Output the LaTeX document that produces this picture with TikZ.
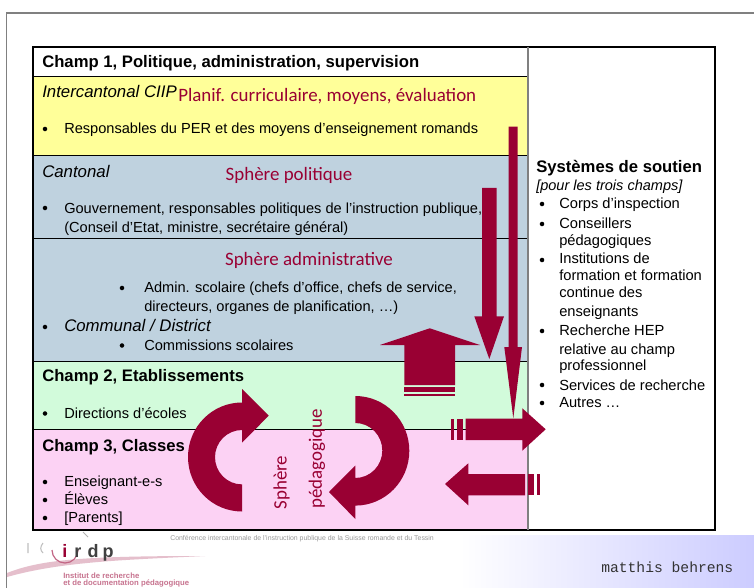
\documentclass[tikz,border=0pt]{standalone}
\usepackage{fontspec}
\setmainfont{Liberation Sans}
\newfontfamily\calib{Carlito}
\newfontfamily\monof{Liberation Mono}
\usetikzlibrary{shadings}
\definecolor{wine}{HTML}{990033}
\definecolor{rowy}{HTML}{FFFF99}
\definecolor{rowb}{HTML}{BFD2DF}
\definecolor{rowg}{HTML}{D2FBDB}
\definecolor{rowp}{HTML}{FCD2F4}
\definecolor{frameg}{HTML}{808080}
\definecolor{barb}{HTML}{CCCCFF}
\tikzset{
 lbl/.style={anchor=base west,inner sep=0pt,font=\fontsize{10.95}{12}\selectfont,text=black},
 hd/.style={lbl,font=\fontsize{12.5}{13}\bfseries\selectfont},
 ital/.style={lbl,font=\fontsize{12.6}{13}\itshape\selectfont},
 side/.style={lbl,font=\fontsize{11}{12}\selectfont},
 sphere/.style={inner sep=0pt,text=wine,font=\fontsize{14.2}{16}\calib\selectfont},
 fl/.style={fill=wine,draw=none},
 blt/.style={circle,fill=black,inner sep=0pt,minimum size=3.4pt},
 logol/.style={anchor=base,inner sep=0pt,font=\fontsize{13.5}{14}\bfseries\selectfont,text=black!75},
}
\begin{document}
\begin{tikzpicture}[x=0.75pt,y=-0.75pt]
\useasboundingbox (0,0) rectangle (754,588);
\clip (0,0) rectangle (754,588);
% page frame and footer
\fill[white] (0,0) rectangle (754,588);
\draw[frameg,line width=0.9pt] (6.5,588) -- (6.5,13) -- (754,13);
\shade[left color=white,right color=barb] (460,535) rectangle (754,588);
% table rows
\fill[white] (33,47) rectangle (715,530);
\fill[rowy] (33,76) rectangle (528,155);
\fill[rowb] (33,155) rectangle (528,361);
\fill[rowg] (33,361) rectangle (528,429);
\fill[rowp] (33,429) rectangle (528,530);
\foreach \yy in {76,155,238,361,429} \draw[line width=0.6pt] (33,\yy) -- (528,\yy);
\draw[line width=0.9pt] (33,47) rectangle (715,530);
\draw[frameg,line width=0.9pt] (528,47) -- (528,530);
% left column text
\node[hd] (c1) at (42,68) {Champ 1, Politique, administration, supervision};
\node[ital] (ic) at (42,98) {Intercantonal CIIP};
\node[lbl] (pe) at (64,133.5) {Responsables du PER et des moyens d’enseignement romands};
\node[ital] (ca) at (42,177.5) {Cantonal};
\node[lbl] (go) at (64,213.5) {Gouvernement, responsables politiques de l’instruction publique,};
\node[lbl] (ce) at (64,233) {(Conseil d’Etat, ministre, secrétaire général)};
\node[lbl] (ad) at (144,292) {Admin. scolaire (chefs d’office, chefs de service,};
\node[lbl] (di) at (144,311) {directeurs, organes de planification, …)};
\node[ital] (co) at (64,331) {Communal / District};
\node[lbl] (cs) at (144,350) {Commissions scolaires};
\node[hd] (c2) at (42,381) {Champ 2, Etablissements};
\node[lbl] (de) at (64,418) {Directions d’écoles};
\node[hd] (c3) at (42,451) {Champ 3, Classes};
\node[lbl] (en) at (64,486) {Enseignant-e-s};
\node[lbl] (el) at (64,504) {Élèves};
\node[lbl] (pa) at (64,522) {[Parents]};
\foreach \px/\py in {45/129,45/208,122/288,45/327,122/345.5,45/413.5,45/482,45/500,45/518}
  \node[blt] at (\px,\py) {};
% right column text
\node[hd] (ss) at (536,173) {Systèmes de soutien};
\node[lbl,font=\fontsize{10.9}{11}\itshape\selectfont] (pt) at (536,191) {[pour les trois champs]};
\node[side] (s1) at (559,209) {Corps d’inspection};
\node[side] (s2) at (559,229) {Conseillers};
\node[side] (s3) at (559,246) {pédagogiques};
\node[side] (s4) at (559,264) {Institutions de};
\node[side] (s5) at (559,281) {formation et formation};
\node[side] (s6) at (559,298) {continue des};
\node[side] (s7) at (559,316) {enseignants};
\node[side] (s8) at (559,335) {Recherche HEP};
\node[side] (s9) at (559,354) {relative au champ};
\node[side] (s10) at (559,370) {professionnel};
\node[side] (s11) at (559,390) {Services de recherche};
\node[side] (s12) at (559,407) {Autres …};
\foreach \py in {204,224,260,331,385,403} \node[blt] at (542,\py) {};
% sphere labels
\node[sphere,anchor=base west] (pl) at (178,102) {Planif. curriculaire, moyens, évaluation};
\node[sphere] (sp) at (289,175) {Sphère politique};
\node[sphere] (sa) at (309,260) {Sphère administrative};
\node[sphere,rotate=90] (s3a) at (281.5,482.5) {Sphère};
\node[sphere,rotate=90] (s3b) at (317,459) {pédagogique};
% straight arrows
\fill[fl] (429.7,328.3) -- (480,345) -- (455,345) -- (455,385) -- (404.3,385) -- (404.3,345) -- (380,345) -- cycle;
\fill[fl] (404.3,387) rectangle (455,392);
\fill[fl] (404.3,393.5) rectangle (455,396);
\fill[fl] (482,188) -- (496.7,188) -- (496.7,316.3) -- (504,316.3) -- (489.3,359) -- (474.3,316.3) -- (482,316.3) -- cycle;
\fill[fl] (508.7,126.7) -- (517.7,126.7) -- (517.7,347) -- (522,347) -- (513.3,418.3) -- (504.3,347) -- (508.7,347) -- cycle;
\fill[fl] (465.7,418.5) -- (522.3,418.5) -- (522.3,408.3) -- (545.7,429.3) -- (522.3,450.7) -- (522.3,440) -- (465.7,440) -- cycle;
\fill[fl] (451,418.5) rectangle (454.3,440);
\fill[fl] (457,418.5) rectangle (463.3,440);
\fill[fl] (445,484) -- (468.3,463.3) -- (468.3,474) -- (525,474) -- (525,495.3) -- (468.3,495.3) -- (468.3,505.3) -- cycle;
\fill[fl] (528.3,474) rectangle (533.7,495.3);
\fill[fl] (536.7,474) rectangle (540,495.3);
% curved arrows
\fill[fl] (242,511.5) arc[start angle=90,end angle=270,x radius=54,y radius=54.5]
  -- (242,389) -- (268.7,415.7) -- (242,442.7) -- (242,430)
  arc[start angle=270,end angle=90,x radius=27,y radius=27.2] -- cycle;
\fill[fl] (355.3,396) arc[start angle=-90,end angle=90,x radius=54,y radius=54.8]
  -- (355.3,519) -- (329,492) -- (355.3,465.5) -- (355.3,478)
  arc[start angle=90,end angle=-90,x radius=27,y radius=27.5] -- cycle;
% footer logo
\fill[wine!25] (7,573) .. controls (40,560) and (80,556) .. (205,556) .. controls (120,560) and (60,562) .. (7,577) -- cycle;
\draw[black!25,line width=0.8pt] (28,543) -- (28,553) (43,543) .. controls (40,547) and (40,550) .. (43,553);
\draw[wine!60,line width=0.9pt] (52,550) arc[start angle=180,end angle=0,x radius=13,y radius=13];
\draw[black!30,line width=0.6pt] (83,532) -- (88,537);
\node[logol,text=wine] (li) at (65,557) {i};
\node[logol] (lr) at (78,557) {r};
\node[logol] (ld) at (93,557) {d};
\node[logol] (lp) at (108,557) {p};
\node[anchor=base west,inner sep=0pt,text=black!40,font=\fontsize{5.2}{6}\selectfont] (cf) at (170,540) {Conférence intercantonale de l’instruction publique de la Suisse romande et du Tessin};
\node[anchor=base west,inner sep=0pt,text=wine!55,font=\fontsize{5.8}{7}\bfseries\selectfont] (in) at (63,578) {Institut de recherche};
\node[anchor=base west,inner sep=0pt,text=wine!55,font=\fontsize{5.8}{7}\bfseries\selectfont] (do) at (63,585.5) {et de documentation pédagogique};
\node[anchor=base west,inner sep=0pt,text=black!80,font=\fontsize{11}{12}\monof\selectfont] (mb) at (601,572) {matthis behrens};
\end{tikzpicture}
\end{document}
